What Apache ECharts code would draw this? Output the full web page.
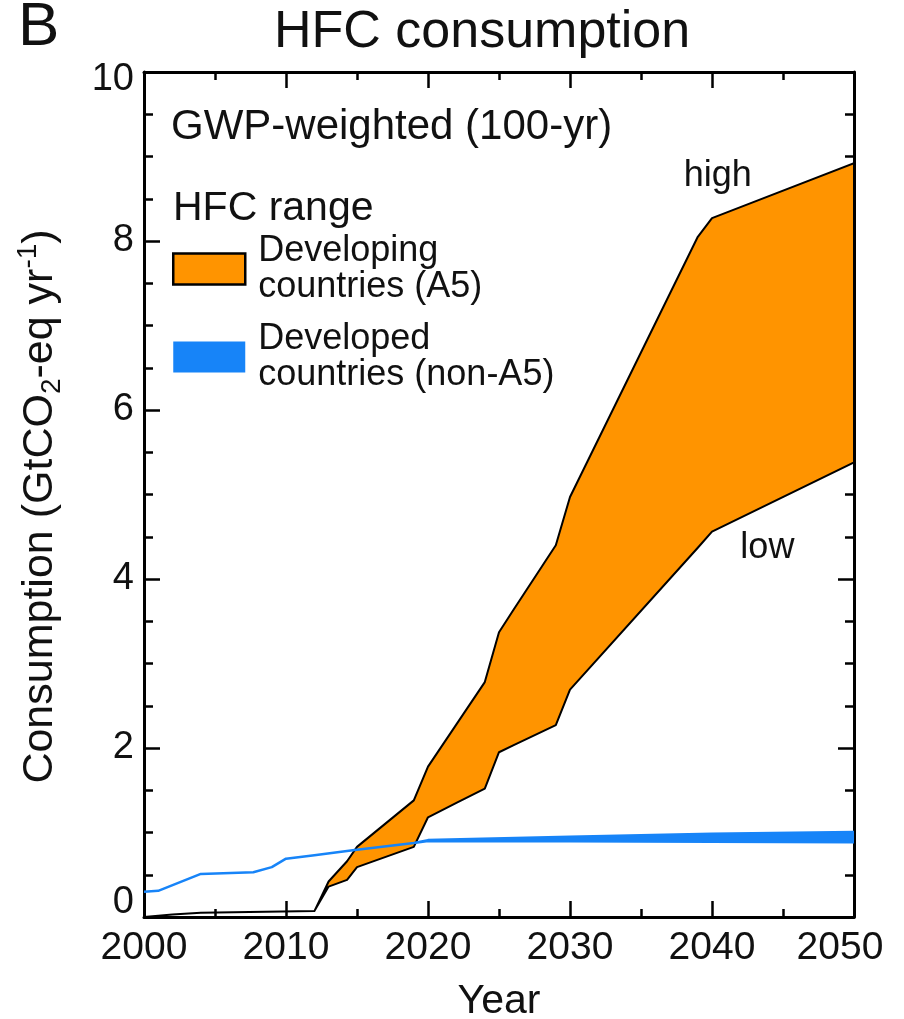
<!DOCTYPE html>
<html><head><meta charset="utf-8">
<script src="https://cdn.jsdelivr.net/npm/echarts@6/dist/echarts.min.js"></script>
<style>html,body{margin:0;padding:0;background:#fff}#c{width:904px;height:1019px}</style>
</head><body><div id="c"></div>
<script>
// Developing countries (A5): HFC range (GtCO2-eq / yr)
const a5Years = [2000, 2002, 2004, 2012, 2013, 2014.3, 2015, 2019, 2020, 2022, 2024, 2025, 2026, 2029, 2030, 2039, 2040, 2050];
const a5High  = [0, 0.03, 0.05, 0.07, 0.42, 0.66, 0.83, 1.38, 1.78, 2.28, 2.78, 3.37, 3.63, 4.40, 4.97, 8.05, 8.27, 8.92];
const a5Low   = [0, 0.03, 0.05, 0.07, 0.36, 0.44, 0.59, 0.83, 1.18, 1.35, 1.52, 1.95, 2.03, 2.27, 2.69, 4.37, 4.56, 5.38];
// Developed countries (non-A5)
const devYears = [2000, 2001, 2004, 2007.7, 2009, 2010, 2012, 2014.7, 2019, 2020, 2030, 2040, 2050];
const devHigh  = [0.30, 0.31, 0.51, 0.53, 0.59, 0.69, 0.73, 0.79, 0.875, 0.91, 0.95, 0.985, 1.005];
const devLow   = [0.30, 0.31, 0.51, 0.53, 0.59, 0.69, 0.73, 0.79, 0.875, 0.90, 0.895, 0.89, 0.885];
// annotations
const noteLabels = ['high', 'low'];
const noteYears  = [2040.4, 2043.9];
const noteValues = [8.77, 4.37];
// axis ticks
const xMin = 2000, xMax = 2050, xStep = 10;
const yMin = 0, yMax = 10, yStep = 2;

const ORANGE = '#FF9400', BLUE = '#1784F8', INK = '#111';
const FONT = 'Liberation Sans';

function bandSeries(name, years, hi, lo, fill, stroke, lw) {
  return {
    type: 'custom', name: name, coordinateSystem: 'cartesian2d',
    itemStyle: { color: fill },
    data: years.map((y, i) => [y, lo[i], hi[i]]),
    encode: { x: 0, y: [1, 2] },
    silent: true, clip: true,
    renderItem: function (params, api) {
      if (params.dataIndex !== 0) return null;
      const top = years.map((y, i) => api.coord([y, hi[i]]));
      const bot = years.map((y, i) => api.coord([y, lo[i]])).reverse();
      return { type: 'polygon', shape: { points: top.concat(bot) },
               style: { fill: fill, stroke: stroke, lineWidth: lw, lineJoin: 'round' } };
    }
  };
}

const tickCommon = () => ({
  axisLine: { show: true, onZero: false, lineStyle: { color: '#000', width: 3 } },
  axisTick: { show: true, inside: true, length: 16, lineStyle: { color: '#000', width: 2.5 } },
  splitLine: { show: false }, minorSplitLine: { show: false }
});

const chart = echarts.init(document.getElementById('c'), null, { renderer: 'canvas' });
chart.setOption({
  animation: false,
  backgroundColor: '#fff',
  textStyle: { fontFamily: FONT },
  title: [
    { text: 'B', left: 18, top: -3, padding: 0, textStyle: { fontSize: 62, fontWeight: 'normal', color: INK, fontFamily: FONT } },
    { text: 'HFC consumption', left: 274, top: 7, padding: 0, textStyle: { fontSize: 52, fontWeight: 'normal', color: INK, fontFamily: FONT } },
    { text: 'GWP-weighted (100-yr)', left: 171, top: 106, padding: 0, textStyle: { fontSize: 42, fontWeight: 'normal', color: INK, fontFamily: FONT } },
    { text: 'HFC range', left: 173, top: 188, padding: 0, textStyle: { fontSize: 41, fontWeight: 'normal', color: INK, fontFamily: FONT } }
  ],
  legend: {
    orient: 'vertical', left: 172, top: 225, padding: 0, itemGap: 0,
    itemWidth: 72, itemHeight: 31, selectedMode: false,
    textStyle: { fontSize: 36, lineHeight: 36, color: INK, fontFamily: FONT, padding: [16, 0, 0, 8] },
    formatter: n => n.replace(' countries', '\ncountries'),
    data: [
      { name: 'Developing countries (A5)', icon: 'rect', itemStyle: { color: ORANGE, borderColor: '#000', borderWidth: 2.5 } },
      { name: 'Developed countries (non-A5)', icon: 'rect', itemStyle: { color: BLUE, borderWidth: 0 } }
    ]
  },
  grid: { left: 144, right: 50, top: 72, bottom: 102, containLabel: false, outerBoundsMode: 'none' },
  xAxis: [
    Object.assign(tickCommon(), {
      type: 'value', min: xMin, max: xMax, interval: xStep, position: 'bottom',
      minorTick: { show: true, splitNumber: 2, length: 8, lineStyle: { color: '#000', width: 2.5 } },
      axisLabel: { fontSize: 39, color: INK, margin: 12, fontFamily: FONT,
        formatter: v => v === xMax ? '{e|' + v + '}' : String(v),
        rich: { e: { fontSize: 39, color: INK, fontFamily: FONT, padding: [0, 28, 0, 0] } } },
      name: 'Year', nameLocation: 'middle', nameGap: 64,
      nameTextStyle: { fontSize: 41, color: INK, fontFamily: FONT }
    }),
    Object.assign(tickCommon(), {
      type: 'value', min: xMin, max: xMax, interval: xStep, position: 'top',
      minorTick: { show: true, splitNumber: 2, length: 8, lineStyle: { color: '#000', width: 2.5 } },
      axisLabel: { show: false }
    })
  ],
  yAxis: [
    Object.assign(tickCommon(), {
      type: 'value', min: yMin, max: yMax, interval: yStep, position: 'left',
      minorTick: { show: true, splitNumber: 4, length: 9, lineStyle: { color: '#000', width: 2.5 } },
      axisLabel: { fontSize: 38, color: INK, margin: 10, fontFamily: FONT,
        formatter: v => v === yMin ? '{lo|' + v + '}' : (v === yMax ? '{hi|' + v + '}' : String(v)),
        rich: {
          lo: { fontSize: 38, color: INK, fontFamily: FONT, padding: [0, 0, 28, 0] },
          hi: { fontSize: 38, color: INK, fontFamily: FONT, padding: [16, 0, 0, 0] }
        } },
      name: 'Consumption (GtCO{sub|2}-eq yr{sup|-1})', nameLocation: 'middle', nameGap: 78,
      nameTextStyle: { fontSize: 43, lineHeight: 52, color: INK, fontFamily: FONT, padding: [0, 24, 0, 0],
        rich: {
          sub: { fontSize: 28, lineHeight: 28, verticalAlign: 'bottom', color: INK, fontFamily: FONT },
          sup: { fontSize: 28, lineHeight: 36, verticalAlign: 'top', color: INK, fontFamily: FONT }
        } }
    }),
    Object.assign(tickCommon(), {
      type: 'value', min: yMin, max: yMax, interval: yStep, position: 'right',
      minorTick: { show: true, splitNumber: 4, length: 9, lineStyle: { color: '#000', width: 2.5 } },
      axisLabel: { show: false }
    })
  ],
  series: [
    bandSeries('Developing countries (A5)', a5Years, a5High, a5Low, ORANGE, '#000', 2),
    bandSeries('Developed countries (non-A5)', devYears, devHigh, devLow, BLUE, BLUE, 2.5),
    {
      type: 'scatter', name: 'notes', symbolSize: 0, silent: true,
      itemStyle: { opacity: 1 },
      data: noteLabels.map((t, i) => ({ name: t, value: [noteYears[i], noteValues[i]] })),
      label: { show: true, position: 'inside', formatter: '{b}', fontSize: 36, color: INK, opacity: 1, fontFamily: FONT }
    }
  ]
});
</script></body></html>
